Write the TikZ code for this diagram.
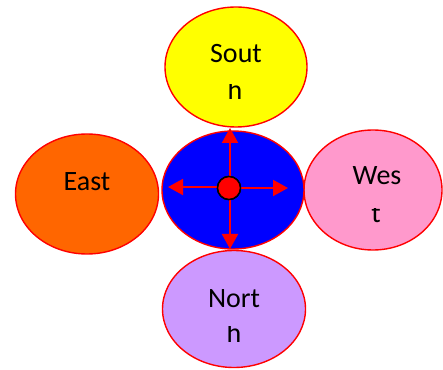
\documentclass[tikz,border=0pt]{standalone}
\usepackage{fontspec}
\setmainfont{Carlito}
\usetikzlibrary{shapes.geometric,arrows.meta}
\definecolor{cyel}{HTML}{FFFF00}
\definecolor{cblue}{HTML}{0000FF}
\definecolor{corange}{HTML}{FF6600}
\definecolor{cpink}{HTML}{FF99CC}
\definecolor{clilac}{HTML}{CC99FF}
\definecolor{cred}{HTML}{FF0000}
\tikzset{
  blob/.style={ellipse, draw=cred, line width=1.4pt, inner sep=0pt},
  lbl/.style={anchor=base, inner sep=0pt, font=\fontsize{28}{32}\selectfont, text=black},
  arr/.style={draw=cred, line width=2pt, -{Triangle[width=16pt,length=15pt]}},
  hub/.style={circle, fill=cred, draw=black, line width=1.5pt, minimum size=23pt, inner sep=0pt}
}
\begin{document}
\begin{tikzpicture}[x=1pt,y=1pt]
\useasboundingbox (0,0) rectangle (443,369);
% ellipses
\node[blob, fill=cyel, minimum width=142pt, minimum height=120pt] (south) at (236,302) {};
\node[blob, fill=corange, minimum width=143pt, minimum height=120pt] (east) at (87,175) {};
\node[blob, fill=cpink, minimum width=138pt, minimum height=120pt] (west) at (373,179) {};
\node[blob, fill=clilac, minimum width=143pt, minimum height=117pt] (north) at (234,60) {};
\node[blob, fill=cblue, minimum width=142pt, minimum height=118pt] (center) at (233,179) {};
% labels
\node[lbl] (s1) at (236,306) {Sout};
\begin{scope}
\clip (200,250) rectangle (270,284);
\node[lbl] (s2) at (235,269) {h};
\end{scope}
\node[lbl] (e1) at (87,178) {East};
\node[lbl] (w1) at (377,184) {Wes};
\begin{scope}
\clip (340,130) rectangle (410,160);
\node[lbl] (w2) at (376,146) {t};
\end{scope}
\node[lbl] (n1) at (234,62) {Nort};
\begin{scope}
\clip (200,10) rectangle (270,43);
\node[lbl] (n2) at (234,27) {h};
\end{scope}
% arrows
\node[hub] (dot) at (229,181) {};
\coordinate (tu) at (230,241);
\coordinate (td) at (230,120);
\coordinate (tl) at (168,182);
\coordinate (tr) at (288,181);
\draw[arr] (dot.north -| tu) -- (tu);
\draw[arr] (dot.south -| td) -- (td);
\draw[arr] (dot.west |- tl) -- (tl);
\draw[arr] (dot.east |- tr) -- (tr);
\node[hub] (dot2) at (229,181) {};
\end{tikzpicture}
\end{document}
